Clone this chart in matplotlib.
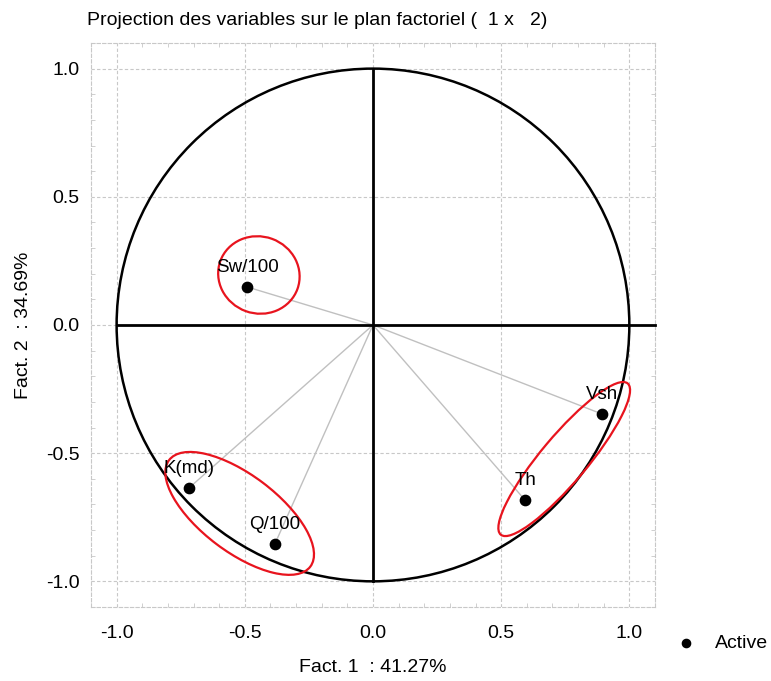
import numpy as np
import matplotlib.pyplot as plt
from matplotlib.patches import Circle, Ellipse
from matplotlib.ticker import MultipleLocator

plt.rcParams['font.family'] = ['Liberation Sans', 'DejaVu Sans']

# coordonnees des variables sur les facteurs 1 et 2
variables = ['Sw/100', 'Vsh', 'Th', 'K(md)', 'Q/100']
fact1 = [-0.49, 0.895, 0.594, -0.719, -0.383]
fact2 = [0.148, -0.348, -0.684, -0.637, -0.855]

# groupes entoures en rouge : centre x, centre y, largeur, hauteur, angle
groupes_cx = [-0.445, 0.746, -0.52]
groupes_cy = [0.195, -0.523, -0.735]
groupes_w = [0.30, 0.77, 0.69]
groupes_h = [0.32, 0.18, 0.30]
groupes_angle = [70, 50, -37]

fig = plt.figure(figsize=(7.71, 6.81), dpi=100)
ax = fig.add_axes([0.118, 0.1087, 0.7315, 0.8282])

ax.set_xlim(-1.1, 1.1)
ax.set_ylim(-1.1, 1.1)
ax.set_aspect('equal')

# grille et cadre en pointille gris
ax.grid(True, color='#c8c8c8', linestyle=(0, (3, 2)), linewidth=0.8)
ax.set_axisbelow(True)
for s in ax.spines.values():
    s.set_linestyle((0, (3, 2)))
    s.set_color('#c8c8c8')
    s.set_linewidth(0.8)

ax.xaxis.set_major_locator(MultipleLocator(0.5))
ax.yaxis.set_major_locator(MultipleLocator(0.5))
ax.xaxis.set_minor_locator(MultipleLocator(0.1))
ax.yaxis.set_minor_locator(MultipleLocator(0.1))
ax.tick_params(which='major', length=0, pad=13, labelsize=14)
ax.tick_params(axis='y', which='major', pad=8)
ax.tick_params(which='minor', direction='in', length=3, color='#c8c8c8',
               top=True, right=True)
ax.set_xticks([-1.0, -0.5, 0.0, 0.5, 1.0])
ax.set_yticks([-1.0, -0.5, 0.0, 0.5, 1.0])
ax.set_xticklabels(['-1.0', '-0.5', '0.0', '0.5', '1.0'])
ax.set_yticklabels(['-1.0', '-0.5', '0.0', '0.5', '1.0'])

# cercle des correlations et axes
ax.add_patch(Circle((0, 0), 1.0, fill=False, color='black', linewidth=1.8, zorder=3))
ax.plot([-1.0, 1.1], [0, 0], color='black', linewidth=2, zorder=3, clip_on=False)
ax.plot([0, 0], [-1.0, 1.0], color='black', linewidth=2, zorder=3)

# vecteurs depuis l'origine
for x, y in zip(fact1, fact2):
    ax.plot([0, x], [0, y], color='#c0c0c0', linewidth=1, zorder=2)

ax.scatter(fact1, fact2, s=55, color='black', zorder=5, label='Active')
for name, x, y in zip(variables, fact1, fact2):
    ax.annotate(name, (x, y), xytext=(0, 8), textcoords='offset points',
                ha='center', va='bottom', fontsize=13.5, zorder=6)

for cx, cy, w, h, a in zip(groupes_cx, groupes_cy, groupes_w, groupes_h, groupes_angle):
    ax.add_patch(Ellipse((cx, cy), w, h, angle=a, fill=False, edgecolor='#e8141e',
                         linewidth=1.6, zorder=4))

ax.set_title('Projection des variables sur le plan factoriel (  1 x   2)',
             fontsize=14, loc='left', x=-0.007, pad=13)
ax.set_xlabel('Fact. 1  : 41.27%', fontsize=14, labelpad=12)
ax.set_ylabel('Fact. 2  : 34.69%', fontsize=14, labelpad=10)

ax.legend(loc='center left', bbox_to_anchor=(0.99, -0.065), frameon=False,
          fontsize=14, handletextpad=0.5, markerscale=0.8)

fig.savefig('out.png', dpi=100)
